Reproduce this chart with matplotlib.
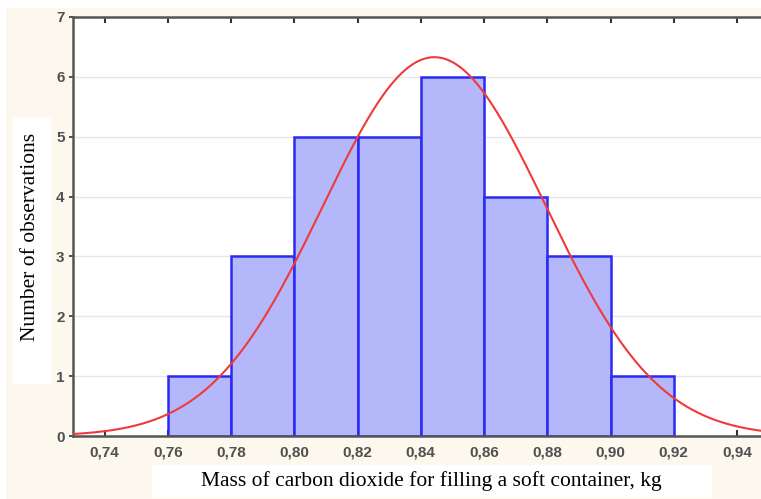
import numpy as np
import matplotlib.pyplot as plt
from matplotlib.patches import Rectangle

# histogram data
bin_edges = [0.76, 0.78, 0.80, 0.82, 0.84, 0.86, 0.88, 0.90, 0.92]
counts = [1, 3, 5, 5, 6, 4, 3, 1]
x_ticks = [0.74, 0.76, 0.78, 0.80, 0.82, 0.84, 0.86, 0.88, 0.90, 0.92, 0.94]
x_tick_labels = ['0,74', '0,76', '0,78', '0,80', '0,82', '0,84', '0,86', '0,88', '0,90', '0,92', '0,94']
y_ticks = [0, 1, 2, 3, 4, 5, 6, 7]

# fitted normal curve (parameters)
curve_mean = 0.8443
curve_sd = 0.0353

cream = '#fdf8ee'
fig = plt.figure(figsize=(7.61, 4.99), dpi=100, facecolor=cream)

# white margins / label boxes
fig.patches.append(Rectangle((0, 0.986), 1, 0.014, transform=fig.transFigure, color='white', zorder=0))
fig.patches.append(Rectangle((0, 0), 0.007, 1, transform=fig.transFigure, color='white', zorder=0))
fig.patches.append(Rectangle((13/761, 1-383/499), 37/761, 265/499, transform=fig.transFigure,
                             color='white', zorder=0))
fig.patches.append(Rectangle((152/761, 1-497/499), 559/761, 32/499, transform=fig.transFigure,
                             color='white', zorder=0))

ax = fig.add_axes([73/761, 1-436/499, (761-73)/761, (436-17)/499])
ax.set_facecolor('white')

widths = np.diff(bin_edges)
ax.bar(bin_edges[:-1], counts, width=widths, align='edge',
       color='#b4b7fa', edgecolor='#2a2af2', linewidth=1.8, zorder=2)

n = sum(counts)
bw = widths[0]
xs = np.linspace(0.73, 0.9476, 400)
ys = n * bw / (curve_sd * np.sqrt(2 * np.pi)) * np.exp(-0.5 * ((xs - curve_mean) / curve_sd) ** 2)
ax.plot(xs, ys, color='#f03a3a', lw=1.5, zorder=3)

ax.set_xlim(0.73, 0.9476)
ax.set_ylim(0, 7)
ax.set_xticks(x_ticks)
ax.set_xticklabels(x_tick_labels)
ax.set_yticks(y_ticks)
ax.yaxis.grid(True, color='#e6e6e6', lw=1, zorder=0)
ax.set_axisbelow(True)

for s in ['left', 'bottom', 'top']:
    ax.spines[s].set_color('#555555')
    ax.spines[s].set_linewidth(1.8)
ax.spines['right'].set_visible(False)

ax.tick_params(axis='x', direction='in', top=True, length=4, width=1.5, color='#333333',
               labelsize=11, labelcolor='#505050', pad=7)
ax.tick_params(axis='y', direction='out', length=3, width=1.2, color='#333333',
               labelsize=11, labelcolor='#505050', pad=3)
for lab in ax.get_xticklabels() + ax.get_yticklabels():
    lab.set_fontfamily('Liberation Sans')
    lab.set_fontweight('bold')

fig.text(31/761, 1-237/499, 'Number of observations', rotation=90, ha='center', va='center',
         family='Liberation Serif', fontsize=15.5, color='black')
fig.text(431/761, 1-481/499, 'Mass of carbon dioxide for filling a soft container, kg',
         ha='center', va='center', family='Liberation Serif', fontsize=15.5, color='black')

fig.savefig('out.png', dpi=100, facecolor=cream)
